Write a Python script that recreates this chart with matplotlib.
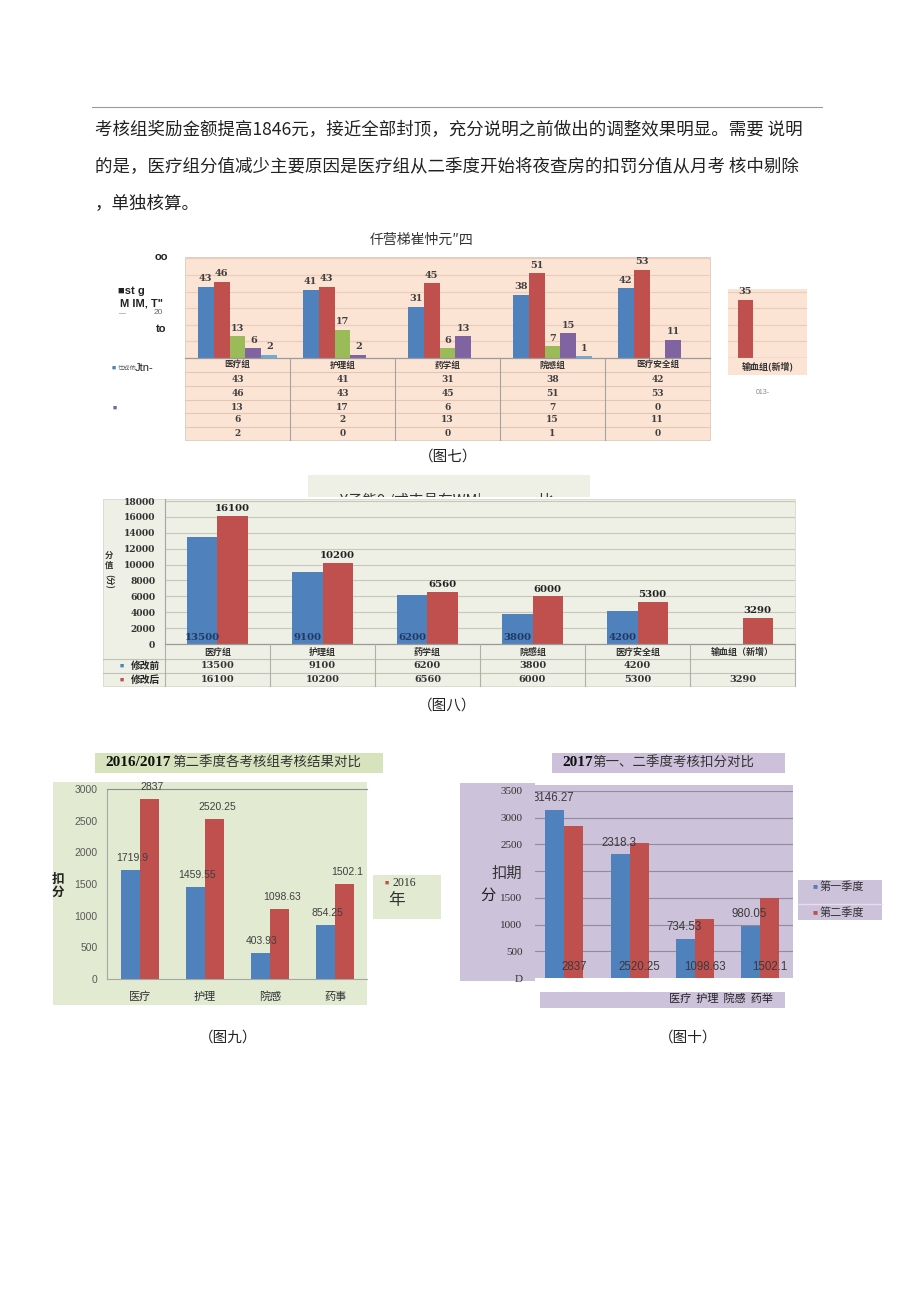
import numpy as np
import matplotlib
matplotlib.use('Agg')
import matplotlib.pyplot as plt
from matplotlib.patches import Rectangle
from matplotlib.transforms import blended_transform_factory

plt.rcParams['font.family'] = ['Noto Sans CJK SC', 'DejaVu Sans']

# ---------------- data ----------------
body_lines = [
    "考核组奖励金额提高1846元，接近全部封顶，充分说明之前做出的调整效果明显。需要 说明",
    "的是，医疗组分值减少主要原因是医疗组从二季度开始将夜查房的扣罚分值从月考 核中剔除",
    "，单独核算。",
]

title7 = "仟营梯崔忡元″四"
groups7 = ["医疗组", "护理组", "药学组", "院感组", "医疗安全组"]
s7_blue = [43, 41, 31, 38, 42]
s7_red = [46, 43, 45, 51, 53]
s7_green = [13, 17, 6, 7, 0]
s7_purple = [6, 2, 13, 15, 11]
s7_cyan = [2, 0, 0, 1, 0]
new7_cat = "输血组(新增)"
new7_val = 35

box8_text = "Y子能9 /式支具在WM|"
cats8 = ["医疗组", "护理组", "药学组", "院感组", "医疗安全组", "输血组（新增）"]
before8 = [13500, 9100, 6200, 3800, 4200, np.nan]
after8 = [16100, 10200, 6560, 6000, 5300, 3290]
legend8 = ["修改前", "修改后"]
yticks8 = list(range(0, 18001, 2000))

title9_a = "2016/2017"
title9_b = "第二季度各考核组考核结果对比"
cats9 = ["医疗", "护理", "院感", "药事"]
blue9 = [1719.9, 1459.55, 403.93, 854.25]
red9 = [2837, 2520.25, 1098.63, 1502.1]
yticks9 = list(range(0, 3001, 500))

title10_a = "2017"
title10_b = "第一、二季度考核扣分对比"
cats10 = ["医疗", "护理", "院感", "药举"]
q1_10 = [3146.27, 2318.3, 734.53, 980.05]
q2_10 = [2837, 2520.25, 1098.63, 1502.1]
yticks10 = list(range(0, 3501, 500))
yticklabels10 = ["D", "500", "1000", "1500", "扣期", "2500", "3000", "3500"]
legend10 = ["第一季度", "第二季度"]

captions = ["（图七）", "（图八）", "（图九）", "（图十）"]

BLUE = "#4f81bd"
RED = "#c0504d"
GREEN = "#9bbb59"
PURPLE = "#8064a2"
CYAN = "#6aaed6"

# ---------------- figure ----------------
W, H = 920, 1302
fig = plt.figure(figsize=(W / 100, H / 100), dpi=100)
fig.patch.set_facecolor("white")
bg = fig.add_axes([0, 0, 1, 1], zorder=-10)
bg.set_xlim(0, W)
bg.set_ylim(H, 0)
bg.axis("off")


def rect(x0, y0, x1, y1, **kw):
    bg.add_patch(Rectangle((x0, y0), x1 - x0, y1 - y0, **kw))


def txt(x, y, s, **kw):
    kw.setdefault("va", "center")
    bg.text(x, y, s, **kw)


def pax(box, z=1, face="none"):
    x0, y0, x1, y1 = box
    ax = fig.add_axes([x0 / W, 1 - y1 / H, (x1 - x0) / W, (y1 - y0) / H], zorder=z)
    ax.set_facecolor(face)
    for s in ax.spines.values():
        s.set_visible(False)
    ax.tick_params(length=0)
    return ax


def yf(box, ypx):
    x0, y0, x1, y1 = box
    return (y1 - ypx) / (y1 - y0)


def xf(box, xpx):
    x0, y0, x1, y1 = box
    return (xpx - x0) / (x1 - x0)


SERIF = "Liberation Serif"
WSERIF = "DejaVu Serif"
SANS = "Liberation Sans"

# ---------------- body text ----------------
bg.plot([92, 822], [107, 107], color="#9a9a9a", lw=0.8)
for y, line in zip([130, 167, 204], body_lines):
    txt(95, y, line, fontsize=12.6, color="#222222", ha="left")

# ---------------- chart 7 ----------------
txt(422, 240, title7, fontsize=10, color="#333333", ha="center")
rect(185, 257, 710, 440, fc="#fce4d5", ec="#dccabd", lw=0.6)
box7 = (185, 257, 710, 358)
ax7 = pax(box7)
ax7.set_xlim(-0.5, 4.5)
ax7.set_ylim(0, 60.8)
ax7.set_xticks([])
ax7.set_yticks([])
for v in range(10, 61, 10):
    ax7.axhline(v, color="#ebcdbb", lw=0.9, zorder=0)
series7 = [s7_blue, s7_red, s7_green, s7_purple, s7_cyan]
cols7 = [BLUE, RED, GREEN, PURPLE, CYAN]
w7 = 0.152
x7 = np.arange(len(groups7))
for k, (vals, c) in enumerate(zip(series7, cols7)):
    xs = x7 + (k - 2) * w7
    ax7.bar(xs, vals, w7, color=c, zorder=2)
    for xx, v in zip(xs, vals):
        if v > 0:
            ax7.annotate(str(v), (xx, v), xytext=(0, 2.5), textcoords="offset points",
                         ha="center", va="bottom", fontsize=7, fontweight="bold",
                         family=WSERIF, color="#404040")
tr7 = blended_transform_factory(ax7.transData, ax7.transAxes)
ax7.plot([-0.5, 4.5], [0, 0], transform=tr7, color="#9a9a9a", lw=0.9, clip_on=False)
for ypx in [372, 386, 400, 413, 427]:
    ax7.plot([-0.5, 4.5], [yf(box7, ypx)] * 2, transform=tr7, color="#e3c6b4", lw=0.8, clip_on=False)
for xb in np.arange(0.5, 4.0, 1.0):
    ax7.plot([xb, xb], [0, yf(box7, 440)], transform=tr7, color="#a3a3a3", lw=0.8, clip_on=False)
for i, g in enumerate(groups7):
    ax7.text(i, yf(box7, 365), g, transform=tr7, ha="center", va="center", fontsize=6.2,
             fontweight="bold", color="#333333", clip_on=False)
for k, ypx in enumerate([379, 393, 407, 420, 434]):
    for i in range(len(groups7)):
        ax7.text(i, yf(box7, ypx), str(series7[k][i]), transform=tr7, ha="center", va="center",
                 fontsize=6.5, fontweight="bold", family=WSERIF, color="#404040", clip_on=False)

# side panel of chart 7
rect(728, 289, 807, 375, fc="#fce4d5", ec="none")
box7b = (728, 289, 807, 358)
ax7b = pax(box7b)
ax7b.set_xlim(-17.5 / 105, 61.5 / 105)
ax7b.set_ylim(0, 60.8 * (358 - 289) / (358 - 257))
ax7b.set_xticks([])
ax7b.set_yticks([])
for v in range(10, 41, 10):
    ax7b.axhline(v, color="#ebcdbb", lw=0.9, zorder=0)
ax7b.bar([0], [new7_val], w7, color=RED, zorder=2)
ax7b.annotate(str(new7_val), (0, new7_val), xytext=(0, 2.5), textcoords="offset points",
              ha="center", va="bottom", fontsize=7, fontweight="bold", family=WSERIF, color="#404040")
ax7b.axhline(0, color="#9a9a9a", lw=0.9)
ax7b.text(0.5, yf(box7b, 366), new7_cat, transform=ax7b.transAxes, ha="center", va="center",
          fontsize=6.5, fontweight="bold", color="#333333", clip_on=False)
txt(763, 393, "013-", fontsize=5, color="#888888", ha="center", family=SANS)

# left junk legend of chart 7
txt(161, 257, "oo", fontsize=8, fontweight="bold", family=SANS, color="#222222", ha="center")
txt(118, 291, "■st g", fontsize=8, fontweight="bold", family=SANS, color="#222222", ha="left")
txt(120, 304, "M IM, T\"", fontsize=8, fontweight="bold", family=SANS, color="#222222", ha="left")
txt(123, 314, "—", fontsize=5, color="#777777", ha="center", family=SANS)
txt(158, 313, "20", fontsize=6, color="#666666", ha="center", family=SANS)
txt(161, 329, "to", fontsize=8, fontweight="bold", family=SANS, color="#222222", ha="center")
txt(112, 368, "■", fontsize=5, color=BLUE, ha="left", family=SANS)
txt(118, 368, "仕成依", fontsize=4.5, color="#666666", ha="left")
txt(135, 368, "Jtn-", fontsize=8, color="#222222", ha="left", family=SANS)
txt(113, 408, "■", fontsize=5, color=PURPLE, ha="left", family=SANS)
txt(448, 457, captions[0], fontsize=10.5, color="#222222", ha="center")

# ---------------- chart 8 ----------------
boxT8 = (308, 475, 590, 497)
axT8 = pax(boxT8, face="#eef0e6")
axT8.set_xticks([])
axT8.set_yticks([])
axT8.set_xlim(0, 1)
axT8.set_ylim(0, 1)
axT8.text(xf(boxT8, 340), yf(boxT8, 501), box8_text, ha="left", va="center", fontsize=10.5,
          color="#333333", clip_on=True)
axT8.text(xf(boxT8, 546), yf(boxT8, 501), "比", ha="center", va="center", fontsize=10.5,
          color="#333333", clip_on=True)

rect(103, 499, 795, 686, fc="#eef0e5", ec="#d6d8cc", lw=0.6)
box8 = (165, 499, 795, 644)
ax8 = pax(box8)
ax8.set_xlim(-0.5, 5.5)
ax8.set_ylim(0, 18260)
ax8.set_xticks([])
ax8.set_yticks(yticks8)
ax8.yaxis.grid(True, color="#c6c8bb", lw=0.8, zorder=0)
ax8.set_axisbelow(True)
ax8.spines["left"].set_visible(True)
ax8.spines["left"].set_color("#a5a5a5")
ax8.tick_params(axis="y", pad=7, labelsize=6.6)
for t in ax8.get_yticklabels():
    t.set_fontfamily(WSERIF)
    t.set_fontweight("bold")
    t.set_color("#333333")
x8 = np.arange(len(cats8))
w8 = 0.286
ax8.bar(x8 - w8 / 2, before8, w8, color=BLUE, zorder=2)
ax8.bar(x8 + w8 / 2, after8, w8, color=RED, zorder=2)
for xx, v in zip(x8, after8):
    ax8.annotate(f"{v:.0f}", (xx + w8 / 2, v), xytext=(0, 2), textcoords="offset points",
                 ha="center", va="bottom", fontsize=7.3, fontweight="bold", family=WSERIF, color="#222222")
for xx, v in zip(x8, before8):
    if not np.isnan(v):
        ax8.annotate(f"{v:.0f}", (xx - w8 / 2, 0), xytext=(0, 4.5), textcoords="offset points",
                     ha="center", va="center", fontsize=7.3, fontweight="bold", family=WSERIF,
                     color="#1f3864")
tr8 = blended_transform_factory(ax8.transData, ax8.transAxes)
ax8.plot([-0.5, 5.5], [0, 0], transform=tr8, color="#9a9a9a", lw=0.9, clip_on=False)
for xb in np.arange(-0.5, 5.6, 1.0):
    ax8.plot([xb, xb], [0, yf(box8, 686)], transform=tr8, color="#b0b0a5", lw=0.8, clip_on=False)
for ypx in [659, 673]:
    bg.plot([103, 795], [ypx, ypx], color="#c0c2b6", lw=0.8)
for i, c in enumerate(cats8):
    ax8.text(i, yf(box8, 652), c, transform=tr8, ha="center", va="center", fontsize=6.5,
             fontweight="bold", color="#333333", clip_on=False)
for ypx, vals in zip([666, 680], [before8, after8]):
    for i, v in enumerate(vals):
        if not np.isnan(v):
            ax8.text(i, yf(box8, ypx), f"{v:.0f}", transform=tr8, ha="center", va="center",
                     fontsize=7, fontweight="bold", family=WSERIF, color="#333333", clip_on=False)
for ypx, lab, c in zip([666, 680], legend8, [BLUE, RED]):
    txt(122, ypx, "■", fontsize=5, color=c, ha="center", family=SANS)
    txt(131, ypx, lab, fontsize=7, fontweight="bold", color="#222222", ha="left")
txt(109, 561, "分\n值", fontsize=6, fontweight="bold", color="#333333", ha="center", linespacing=0.9)
txt(109, 581, "(分)", fontsize=6, fontweight="bold", color="#333333", ha="center", rotation=270)
txt(447, 706, captions[1], fontsize=10.5, color="#222222", ha="center")

# ---------------- chart 9 ----------------
rect(95, 753, 383, 773, fc="#d7e3bd", ec="none")
txt(105, 763, title9_a, fontsize=11, fontweight="bold", family=SERIF, color="#111111", ha="left")
txt(172, 763, title9_b, fontsize=9.7, color="#333333", ha="left")
rect(53, 782, 367, 1005, fc="#e2ead2", ec="none")
box9 = (107.5, 789, 367.5, 979)
ax9 = pax(box9)
ax9.set_xlim(-0.5, 3.5)
ax9.set_ylim(0, 3000)
for sp, col in [("left", "#a6a6a6"), ("bottom", "#a6a6a6"), ("top", "#8c8c8c")]:
    ax9.spines[sp].set_visible(True)
    ax9.spines[sp].set_color(col)
    ax9.spines[sp].set_linewidth(0.8)
ax9.set_yticks(yticks9)
ax9.tick_params(axis="y", pad=7, labelsize=7.5, labelcolor="#595959")
for t in ax9.get_yticklabels():
    t.set_fontfamily(SANS)
x9 = np.arange(len(cats9))
ax9.set_xticks(x9)
ax9.set_xticklabels(cats9)
ax9.tick_params(axis="x", pad=9, labelsize=8, labelcolor="#333333")
w9 = 0.29
ax9.bar(x9 - w9 / 2, blue9, w9, color=BLUE, zorder=2)
ax9.bar(x9 + w9 / 2, red9, w9, color=RED, zorder=2)
for xx, v in zip(x9, blue9):
    ax9.annotate(f"{v:g}", (xx - w9 / 2, v), xytext=(1, 5), textcoords="offset points",
                 ha="center", va="bottom", fontsize=7.5, family=SANS, color="#404040", zorder=3)
for xx, v in zip(x9, red9):
    ax9.annotate(f"{v:g}", (xx + w9 / 2, v), xytext=(2, 5), textcoords="offset points",
                 ha="center", va="bottom", fontsize=7.5, family=SANS, color="#404040", zorder=3)
txt(58, 886, "扣\n分", fontsize=9, fontweight="bold", color="#222222", ha="center", linespacing=1.0)
boxL9 = (373, 875, 441, 919)
axL9 = pax(boxL9, face="#e2ead2")
axL9.set_xticks([])
axL9.set_yticks([])
axL9.set_xlim(0, 1)
axL9.set_ylim(0, 1)
axL9.text(xf(boxL9, 387), yf(boxL9, 883), "■", fontsize=5, color=RED, ha="center", va="center", family=SANS)
axL9.text(xf(boxL9, 393), yf(boxL9, 883), "2016", fontsize=8.5, family=SERIF, color="#333333",
          ha="left", va="center")
axL9.text(xf(boxL9, 397), yf(boxL9, 900), "年", fontsize=12, color="#333333", ha="center", va="center")
axL9.text(xf(boxL9, 387), yf(boxL9, 923), "■", fontsize=5, color="#777777", ha="center", va="center",
          family=SANS, clip_on=True)
axL9.text(xf(boxL9, 393), yf(boxL9, 924), "2017", fontsize=8.5, family=SERIF, color="#333333",
          ha="left", va="center", clip_on=True)
txt(228, 1038, captions[2], fontsize=10.5, color="#222222", ha="center")

# ---------------- chart 10 ----------------
LAV = "#ccc2da"
rect(552, 753, 785, 773, fc="#ccc0da", ec="none")
txt(562, 763, title10_a, fontsize=11, fontweight="bold", family=SERIF, color="#111111", ha="left")
txt(592, 763, title10_b, fontsize=9.7, color="#333333", ha="left")
rect(460, 783, 535, 981, fc=LAV, ec="none")
rect(535, 785, 793, 978, fc=LAV, ec="none")
box10 = (535, 791, 793, 978)
ax10 = pax(box10)
ax10.set_xlim(-0.45, 3.5)
ax10.set_ylim(0, 3500)
ax10.set_xticks([])
ax10.set_yticks(yticks10)
ax10.set_yticklabels(yticklabels10)
ax10.tick_params(axis="y", pad=9, labelsize=8, labelcolor="#333333")
for t in ax10.get_yticklabels():
    if t.get_text() == "扣期":
        t.set_fontsize(11)
    else:
        t.set_fontfamily(SERIF)
for v in yticks10[1:]:
    ax10.axhline(v, color="#8e8d9c", lw=0.8, zorder=0)
x10 = np.arange(len(cats10))
w10 = 0.29
ax10.bar(x10 - w10 / 2, q1_10, w10, color=BLUE, zorder=2)
ax10.bar(x10 + w10 / 2, q2_10, w10, color=RED, zorder=2)
for xx, v in zip(x10, q1_10):
    ax10.annotate(f"{v:g}", (xx - w10 / 2, v), xytext=(-1, 4), textcoords="offset points",
                  ha="center", va="bottom", fontsize=8.3, family=SANS, color="#3a3a3a",
                  zorder=3, annotation_clip=False, clip_on=True)
for xx, v in zip(x10, q2_10):
    ax10.annotate(f"{v:g}", (xx + w10 / 2, 0), xytext=(0, 8), textcoords="offset points",
                  ha="center", va="center", fontsize=8.3, family=SANS, color="#3a3a3a", zorder=3)
txt(488, 895, "分", fontsize=11, color="#222222", ha="center")
rect(798, 880, 882, 920, fc=LAV, ec="none")
bg.plot([798, 882], [904, 904], color="#e4dfec", lw=1)
for ypx, lab, c in zip([887, 913], legend10, [BLUE, RED]):
    txt(815, ypx, "■", fontsize=6, color=c, ha="center", family=SANS)
    txt(820, ypx, lab, fontsize=8, color="#333333", ha="left")
rect(540, 992, 785, 1008, fc=LAV, ec="none")
txt(773, 999, "  ".join(cats10), fontsize=8, color="#222222", ha="right")
txt(688, 1038, captions[3], fontsize=10.5, color="#222222", ha="center")

fig.savefig("out.png", dpi=100)
